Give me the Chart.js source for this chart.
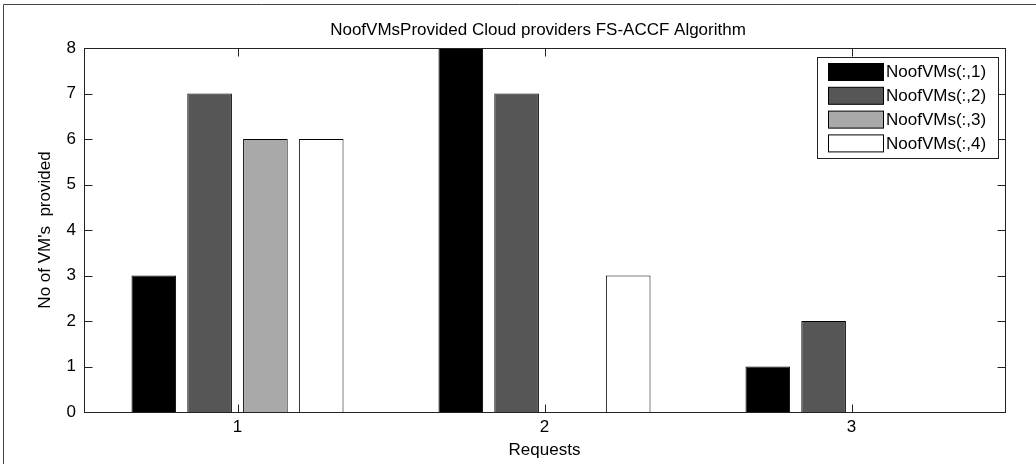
<!DOCTYPE html>
<html>
<head>
<meta charset="utf-8">
<script src="https://cdn.jsdelivr.net/npm/chart.js@4/dist/chart.umd.min.js"></script>
<style>
  html, body { margin: 0; padding: 0; background: #fff; }
  #wrap { width: 1036px; height: 464px; position: relative; }
</style>
</head>
<body>
<div id="wrap"><canvas id="c" width="1036" height="464"></canvas></div>
<script>
// ---- Data ----
const categories = ['1', '2', '3'];
const seriesNames = ['NoofVMs(:,1)', 'NoofVMs(:,2)', 'NoofVMs(:,3)', 'NoofVMs(:,4)'];
const series1 = [3, 8, 1];
const series2 = [7, 7, 2];
const series3 = [6, 0, 0];
const series4 = [6, 3, 0];
const seriesColors = ['#000000', '#565656', '#a9a9a9', '#ffffff'];
const yMin = 0, yMax = 8, yStep = 1;
const chartTitle = 'NoofVMsProvided Cloud providers FS-ACCF Algorithm';
const xTitle = 'Requests';
const yTitle = "No of VM's  provided";

const FONT = 'Liberation Sans, Arial, Helvetica, sans-serif';
const FS = 17;

const allSeries = [series1, series2, series3, series4];
const datasets = allSeries.map((d, i) => ({
  label: seriesNames[i],
  data: d,
  backgroundColor: seriesColors[i],
  borderColor: '#000',
  borderWidth: 1,
  categoryPercentage: 0.727,
  barPercentage: 0.8
}));

const framePlugin = {
  id: 'frame',
  beforeDraw(chart) {
    const ctx = chart.ctx;
    ctx.save();
    ctx.fillStyle = '#fff';
    ctx.fillRect(0, 0, chart.width, chart.height);
    ctx.strokeStyle = '#444';
    ctx.lineWidth = 1;
    ctx.beginPath();
    ctx.moveTo(3.5, chart.height);
    ctx.lineTo(3.5, 4.5);
    ctx.lineTo(chart.width, 4.5);
    ctx.stroke();
    // Chart title
    ctx.fillStyle = '#000';
    ctx.font = FS + 'px ' + FONT;
    ctx.textAlign = 'center';
    ctx.textBaseline = 'middle';
    ctx.fillText(chartTitle, 538, 30);
    ctx.restore();
  },
  afterDatasetsDraw(chart) {
    const ctx = chart.ctx;
    const a = chart.chartArea;
    const xs = chart.scales.x, ys = chart.scales.y;
    const L = Math.round(a.left) + 0.5, R = Math.round(a.right) + 0.5;
    const T = Math.round(a.top) + 0.5, B = Math.round(a.bottom) + 0.5;
    ctx.save();
    ctx.strokeStyle = '#222';
    ctx.lineWidth = 1;
    ctx.strokeRect(L, T, R - L, B - T);
    const tl = 8;
    ctx.beginPath();
    ys.ticks.forEach(t => {
      const y = Math.round(ys.getPixelForValue(t.value)) + 0.5;
      ctx.moveTo(L, y); ctx.lineTo(L + tl, y);
      ctx.moveTo(R, y); ctx.lineTo(R - tl, y);
    });
    categories.forEach((c, i) => {
      const x = Math.round(xs.getPixelForValue(i)) + 0.5;
      ctx.moveTo(x, B); ctx.lineTo(x, B - tl);
      ctx.moveTo(x, T); ctx.lineTo(x, T + tl);
    });
    ctx.stroke();

    // Legend box (inside plot, top-right)
    const bx = 817.5, by = 57.5, bw = 181, bh = 101;
    ctx.fillStyle = '#fff';
    ctx.fillRect(bx, by, bw, bh);
    ctx.strokeStyle = '#222';
    ctx.strokeRect(bx, by, bw, bh);
    ctx.font = FS + 'px ' + FONT;
    ctx.textBaseline = 'middle';
    ctx.textAlign = 'left';
    chart.data.datasets.forEach((ds, i) => {
      const sy = 63.5 + i * 23.8;
      ctx.fillStyle = ds.backgroundColor;
      ctx.fillRect(828.5, sy, 55, 17);
      ctx.strokeStyle = '#000';
      ctx.strokeRect(828.5, sy, 55, 17);
      ctx.fillStyle = '#000';
      ctx.fillText(ds.label, 886, sy + 9);
    });
    ctx.restore();
  }
};

new Chart(document.getElementById('c'), {
  type: 'bar',
  data: { labels: categories, datasets },
  plugins: [framePlugin],
  options: {
    responsive: false,
    animation: false,
    devicePixelRatio: 1,
    layout: { padding: { left: 0, right: 31, top: 48, bottom: 0 } },
    plugins: {
      legend: { display: false },
      tooltip: { enabled: false },
      title: { display: false }
    },
    scales: {
      x: {
        grid: { display: false, drawTicks: false },
        border: { display: false },
        ticks: { color: '#000', padding: 5, font: { family: FONT, size: FS } },
        title: { display: true, text: xTitle, color: '#000', font: { family: FONT, size: FS }, padding: { top: 0, bottom: 3 } },
        afterFit(s) { s.height = 52; }
      },
      y: {
        min: yMin, max: yMax,
        grid: { display: false, drawTicks: false },
        border: { display: false },
        ticks: { stepSize: yStep, color: '#000', padding: 8, font: { family: FONT, size: FS } },
        title: { display: true, text: yTitle, color: '#000', font: { family: FONT, size: FS }, padding: { top: 35, bottom: 0 } },
        afterFit(s) { s.width = 84; }
      }
    }
  }
});
</script>
</body>
</html>
